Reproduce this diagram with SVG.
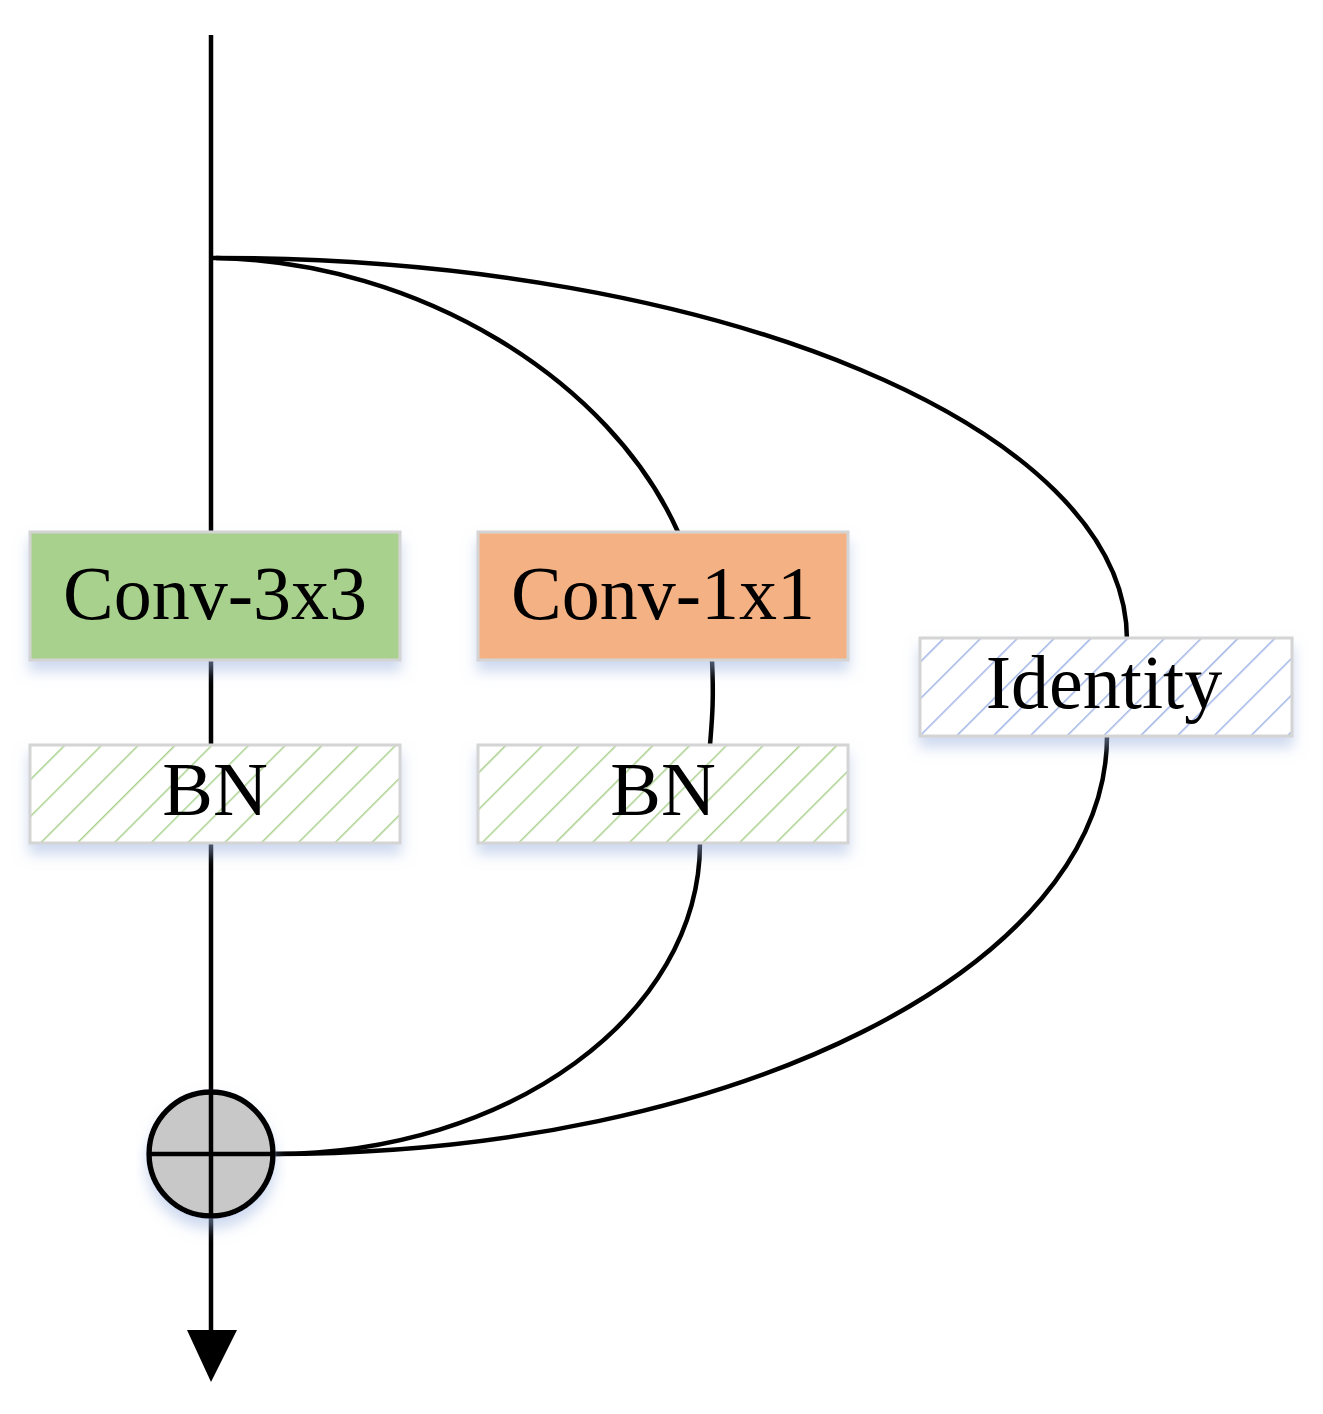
<svg xmlns="http://www.w3.org/2000/svg" width="1323" height="1414" viewBox="0 0 1323 1414">
<style>
.box{stroke:#d4d4d4;stroke-width:3;filter:url(#sh)}
.lbl{font-family:"Liberation Serif","Times New Roman",serif;font-size:76px;fill:#000;text-anchor:middle}
.wire{fill:none;stroke:#000;stroke-width:4.5}
</style>
<defs>
<filter id="sh" x="-10%" y="-20%" width="120%" height="160%">
<feDropShadow dx="0" dy="10" stdDeviation="7" flood-color="#9db4e0" flood-opacity="0.5"/>
</filter>
<pattern id="hg" patternUnits="userSpaceOnUse" width="26" height="26" patternTransform="rotate(45)">
<rect width="26" height="26" fill="#fff"/>
<line x1="0" y1="0" x2="0" y2="26" stroke="#a9d18e" stroke-width="3"/>
</pattern>
<pattern id="hb" patternUnits="userSpaceOnUse" width="26" height="26" patternTransform="rotate(45)">
<rect width="26" height="26" fill="#fff"/>
<line x1="0" y1="0" x2="0" y2="26" stroke="#9fb4e6" stroke-width="3"/>
</pattern>
</defs>
<rect width="1323" height="1414" fill="#fff"/>
<g id="connectors">
<line class="wire" x1="211" y1="35" x2="211" y2="1336"/>
<path class="wire" d="M211,258 L216,258 C420,262 610,380 678,532"/>
<path class="wire" d="M216,258 C718,258 1127,428 1127,640"/>
<path class="wire" d="M712,660 C714,700 712,720 710,745"/>
<path class="wire" d="M700,843 C700,1015 509,1154 274,1154"/>
<path class="wire" d="M1107,736 C1107,967 734,1154 274,1154"/>
<polygon points="187,1330 237,1330 211,1382" fill="#000"/>
</g>
<g id="conv3x3">
<rect class="box" x="30" y="532" width="370" height="128" fill="#a9d18e"/>
<text class="lbl" x="215" y="619">Conv-3x3</text>
</g>
<g id="bn1">
<rect class="box" x="30" y="745" width="370" height="98" fill="url(#hg)"/>
<text class="lbl" x="215" y="815">BN</text>
</g>
<g id="conv1x1">
<rect class="box" x="478" y="532" width="370" height="128" fill="#f4b183"/>
<text class="lbl" x="663" y="619">Conv-1x1</text>
</g>
<g id="bn2">
<rect class="box" x="478" y="745" width="370" height="98" fill="url(#hg)"/>
<text class="lbl" x="663" y="815">BN</text>
</g>
<g id="identity">
<rect class="box" x="920" y="638" width="372" height="98" fill="url(#hb)"/>
<text class="lbl" x="1104" y="708">Identity</text>
</g>
<g id="add">
<circle cx="211" cy="1154" r="62" fill="#c8c8c8" stroke="#000" stroke-width="5.5" filter="url(#sh)"/>
<line x1="211" y1="1092" x2="211" y2="1216" stroke="#000" stroke-width="4.5"/>
<line x1="149" y1="1154" x2="274" y2="1154" stroke="#000" stroke-width="4.5"/>
</g>
</svg>
